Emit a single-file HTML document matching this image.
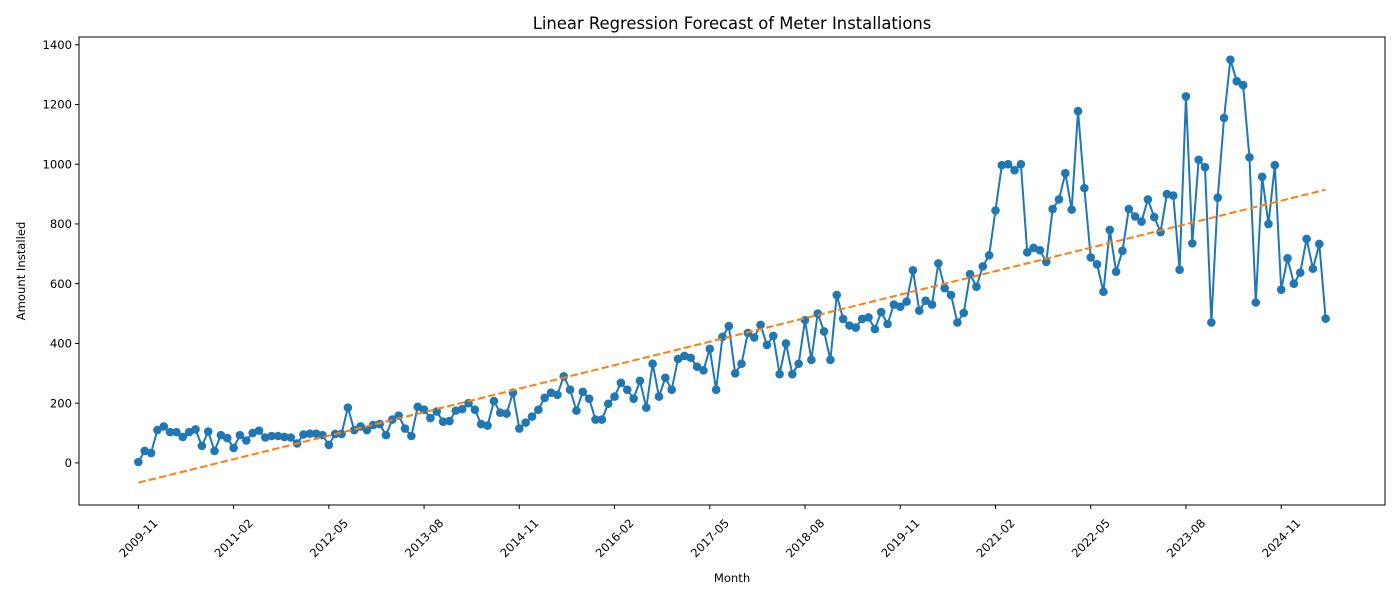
<!DOCTYPE html>
<html><head><meta charset="utf-8"><style>
body{margin:0;background:#fff;}
svg{display:block;font-family:"DejaVu Sans","Liberation Sans",sans-serif;}
</style></head><body>
<svg id="chart" width="1400" height="600"></svg>
<script>
const values=[3,40,33,110,122,103,103,87,103,112,57,105,40,93,83,50,93,75,100,108,85,90,90,87,85,65,95,98,98,93,60,97,97,185,110,122,110,127,130,93,145,158,115,90,188,178,150,172,138,140,175,180,200,178,130,125,207,168,165,235,115,135,155,178,218,235,228,290,245,175,238,215,145,145,198,222,268,245,215,275,185,332,222,285,245,348,358,352,322,310,382,245,422,458,300,332,435,420,462,395,425,297,400,297,332,478,345,500,440,345,562,482,460,453,482,487,448,505,465,530,523,540,645,510,543,530,668,585,562,470,502,632,590,658,695,845,997,1000,980,1000,705,720,712,673,850,882,970,848,1178,920,688,665,573,780,640,710,850,825,808,882,823,773,900,895,647,1227,735,1015,990,470,888,1155,1350,1278,1265,1023,537,958,800,997,580,685,600,637,750,650,733,483];
const startYear=2009, startMonth=11;
const xTickIdx=[0,15,30,45,60,75,90,105,120,135,150,165,180];
const yTicks=[0,200,400,600,800,1000,1200,1400];

const NS="http://www.w3.org/2000/svg";
const svg=document.getElementById('chart');
const L=79,R=1385,T=37,B=505;
const n=values.length;
const xmin=-0.05*(n-1), xmax=(n-1)*1.05;
const ymin=-141, ymax=1426;
const X=i=>L+(i-xmin)/(xmax-xmin)*(R-L);
const Y=v=>B-(v-ymin)/(ymax-ymin)*(B-T);
function mk(tag,attrs,parent){const e=document.createElementNS(NS,tag);for(const k in attrs)e.setAttribute(k,attrs[k]);(parent||svg).appendChild(e);return e;}
function lbl(i){let m=startMonth-1+i;const y=startYear+Math.floor(m/12);m=m%12+1;return y+'-'+String(m).padStart(2,'0');}

yTicks.forEach(v=>{
  const y=Y(v);
  const t=mk('line',{x1:L-4,x2:L,y1:y,y2:y,stroke:'#000','stroke-width':1});
  
  
  const tx=mk('text',{x:L-7,y:y+4.2,'text-anchor':'end','font-size':11.6,fill:'#000'});
  tx.textContent=v;
  
  
});
xTickIdx.forEach(i=>{
  const x=X(i);
  const t=mk('line',{x1:x,x2:x,y1:B,y2:B+4,stroke:'#000','stroke-width':1});
  
  
  const cy=538;
  const tx=mk('text',{x:x,y:cy+4.2,'text-anchor':'middle','font-size':11.6,fill:'#000',transform:`rotate(-45 ${x} ${cy})`});
  tx.textContent=lbl(i);
  
  
});

let sx=0,sy=0,sxx=0,sxy=0;
values.forEach((v,i)=>{sx+=i;sy+=v;sxx+=i*i;sxy+=i*v;});
const slope=(n*sxy-sx*sy)/(n*sxx-sx*sx), icpt=(sy-slope*sx)/n;

const pts=values.map((v,i)=>X(i).toFixed(2)+','+Y(v).toFixed(2)).join(' ');
const pl=mk('polyline',{points:pts,fill:'none',stroke:'#1f77b4','stroke-width':2,'stroke-linejoin':'round'});


values.forEach((v,i)=>{
  const c=mk('circle',{cx:X(i),cy:Y(v),r:4.3,fill:'#1f77b4'});
  
  
});
const rl=mk('line',{x1:X(0),y1:Y(icpt),x2:X(n-1),y2:Y(icpt+slope*(n-1)),stroke:'#ff7f0e','stroke-width':2,'stroke-dasharray':'7.4,3.2'});



const fr=mk('rect',{x:L,y:T,width:R-L,height:B-T,fill:'none',stroke:'#000','stroke-width':1});



const title=mk('text',{x:(L+R)/2,y:29,'text-anchor':'middle','font-size':16.4,fill:'#000'});
title.textContent='Linear Regression Forecast of Meter Installations';


const xl=mk('text',{x:(L+R)/2,y:582,'text-anchor':'middle','font-size':11.6,fill:'#000'});
xl.textContent='Month';


const yl=mk('text',{x:25,y:271,'text-anchor':'middle','font-size':11.6,fill:'#000',transform:'rotate(-90 25 271)'});
yl.textContent='Amount Installed';


</script>
</body></html>
